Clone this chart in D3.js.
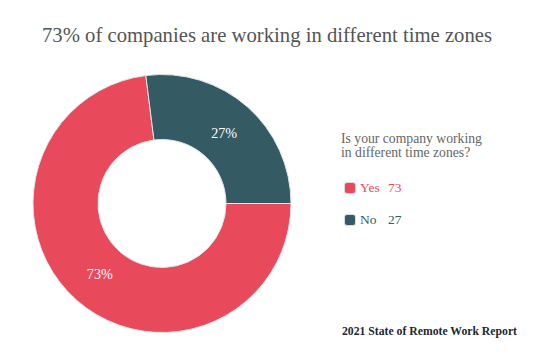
<!DOCTYPE html>
<html><head><meta charset="utf-8">
<script src="https://cdn.jsdelivr.net/npm/d3@7"></script>
<style>body{margin:0;background:#fff}svg{display:block}text{font-family:"Liberation Serif","DejaVu Serif",serif}</style>
</head><body><svg id="c" width="536" height="356"></svg>
<script>
const categories = ["Yes", "No"];
const values = [73, 27];
const colors = ["#e84a5c", "#345a63"];
const title = "73% of companies are working in different time zones";
const legendTitle = ["Is your company working", "in different time zones?"];
const source = "2021 State of Remote Work Report";

const svg = d3.select("#c");
function fit(sel, w) {
  const n = sel.node();
  const fs = parseFloat(sel.attr("font-size"));
  const cw = n.getComputedTextLength();
  if (cw > 0) sel.attr("font-size", (fs * w / cw).toFixed(2));
  return sel;
}
const cx = 162, cy = 203.5, rO = 129, rI = 64;
const data = categories.map((c, i) => ({c, v: values[i], col: colors[i]}));
const pie = d3.pie().value(d => d.v).sort(null).startAngle(Math.PI/2).endAngle(Math.PI/2 + 2*Math.PI);
const arc = d3.arc().innerRadius(rI).outerRadius(rO);
const lab = d3.arc().innerRadius(94).outerRadius(94);
const g = svg.append("g").attr("transform", `translate(${cx},${cy})`);
const arcs = pie(data);
g.selectAll("path").data(arcs).join("path").attr("d", arc).attr("fill", d => d.data.col)
  .attr("stroke", "#dfe5e8").attr("stroke-width", 1);
const total = d3.sum(values);
g.selectAll("text").data(arcs).join("text").attr("transform", d => `translate(${lab.centroid(d)})`)
  .attr("text-anchor", "middle").attr("dy", "0.35em").attr("fill", "#fff").attr("font-size", 15)
  .text(d => Math.round(d.data.v / total * 100) + "%")
  .each(function(){ fit(d3.select(this), 26); });

fit(svg.append("text").attr("x", 267).attr("y", 42).attr("text-anchor", "middle").attr("font-size", 21)
  .attr("fill", "#555").text(title), 450);

svg.selectAll("text.lt").data(legendTitle).join("text").attr("class", "lt").attr("x", 341)
  .attr("y", (d, i) => 143 + i * 14).attr("font-size", 13).attr("fill", "#666").text(d => d)
  .each(function(d, i){ if (i === 0) fit(d3.select(this), 141); });
svg.selectAll("text.lt").attr("font-size", svg.select("text.lt").attr("font-size"));

const lg = svg.selectAll("g.li").data(data).join("g").attr("class", "li")
  .attr("transform", (d, i) => `translate(344,${192 + i * 32})`);
lg.append("rect").attr("x", 0.5).attr("y", -9.5).attr("width", 11).attr("height", 11).attr("rx", 2.5)
  .attr("fill", d => d.col).attr("stroke", "#d5dde0").attr("stroke-width", 1);
lg.append("text").attr("x", 16).attr("y", 0).attr("font-size", 13.5).attr("fill", d => d.col).text(d => d.c);
lg.append("text").attr("x", 44).attr("y", 0).attr("font-size", 13.5).attr("fill", d => d.col).text(d => d.v);

fit(svg.append("text").attr("x", 342).attr("y", 335).attr("font-size", 13).attr("fill", "#1e2830")
  .attr("font-weight", "bold").text(source), 175);
</script></body></html>
